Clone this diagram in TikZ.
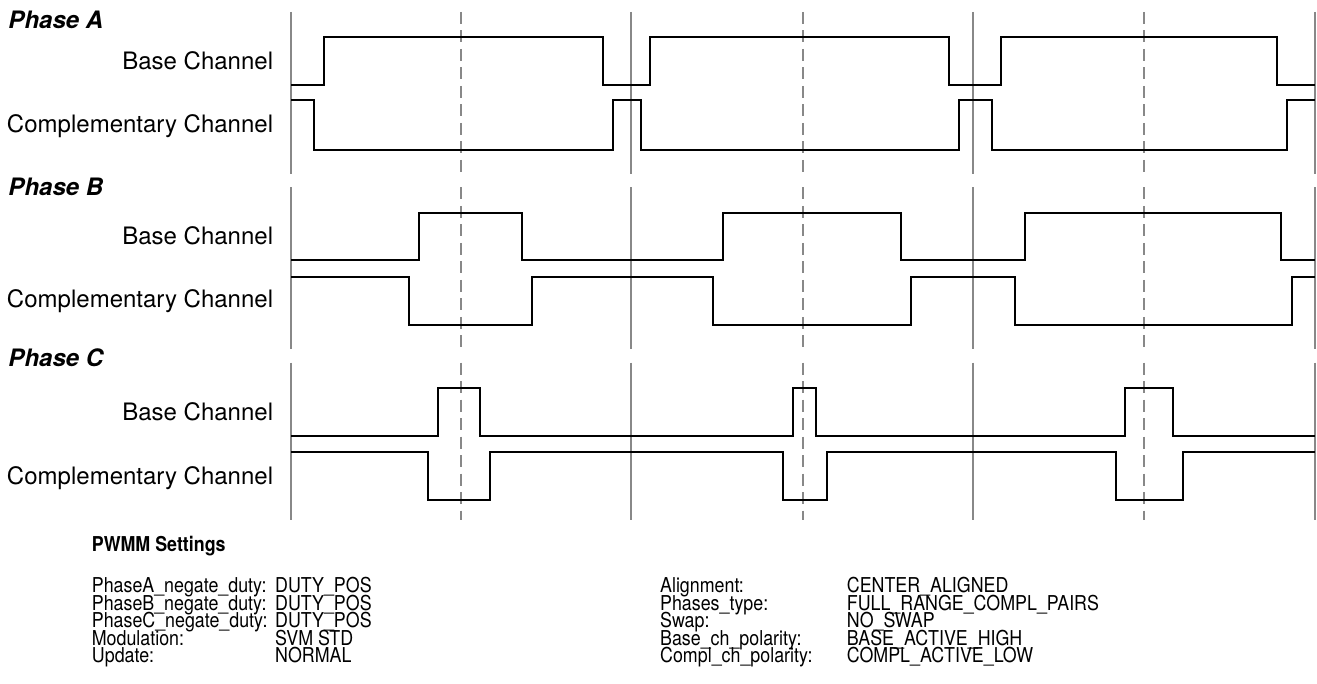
\documentclass[tikz,border=0pt]{standalone}
\usepackage{fontspec}
\setmainfont{TeX Gyre Heros}
\definecolor{gridgray}{RGB}{136,136,136}
\begin{document}
\begin{tikzpicture}[x=1pt,y=-1pt,
  solidgrid/.style={draw=gridgray, line width=2pt},
  dashgrid/.style={draw=gridgray, line width=2pt, dash pattern=on 12pt off 6.5pt},
  wave/.style={draw=black, line width=2pt, line join=miter},
  phaselbl/.style={anchor=base west, inner sep=0pt, font=\fontsize{24}{28}\selectfont\bfseries\itshape},
  chlbl/.style={anchor=base east, inner sep=0pt, font=\fontsize{24}{28}\selectfont},
  settitle/.style={anchor=base west, inner sep=0pt, xscale=0.87, transform shape, font=\fontsize{20.5}{18}\selectfont\bfseries},
  setlbl/.style={anchor=base west, inner sep=0pt, xscale=0.87, transform shape, font=\fontsize{20.5}{18}\selectfont}]
\useasboundingbox (0,0) rectangle (1317,684);

% grid lines per section
\foreach \ya/\yb in {12/174.3, 187.3/349.3, 362.7/520}{
  \foreach \xx in {291,630.7,973,1315}{
    \draw[solidgrid] (\xx,\ya) -- (\xx,\yb);
  }
  \foreach \xx in {460.7,803,1144}{
    \draw[dashgrid] (\xx,\ya) -- (\xx,\yb);
  }
}

% labels
\node[phaselbl] (pa) at (8.3,28.3) {Phase A};
\node[chlbl] (pab) at (273.3,70) {Base Channel};
\node[chlbl] (pac) at (273.3,132.7) {Complementary Channel};
\node[phaselbl] (pb) at (8.3,196) {Phase B};
\node[chlbl] (pbb) at (273.3,244.3) {Base Channel};
\node[chlbl] (pbc) at (273.3,307.3) {Complementary Channel};
\node[phaselbl] (pc) at (8.3,366.7) {Phase C};
\node[chlbl] (pcb) at (273.3,420) {Base Channel};
\node[chlbl] (pcc) at (273.3,484) {Complementary Channel};

% Phase A
\draw[wave] (291,85) -| (324,36.7) -| (602.7,85) -| (649.5,36.7) -| (949.1,85) -| (1001.4,36.7) -| (1276.8,85) -- (1315,85);
\draw[wave] (291,100.3) -| (313.7,149.7) -| (613,100.3) -| (641.3,149.7) -| (958.6,100.3) -| (991.5,149.7) -| (1287.2,100.3) -- (1315,100.3);
% Phase B
\draw[wave] (291,260.3) -| (419,212.7) -| (522,260.3) -| (723,212.7) -| (900.7,260.3) -| (1024.9,212.7) -| (1281,260.3) -- (1315,260.3);
\draw[wave] (291,277) -| (409,324.7) -| (531.7,277) -| (713,324.7) -| (911,277) -| (1015.3,324.7) -| (1291.7,277) -- (1315,277);
% Phase C
\draw[wave] (291,436) -| (438,388) -| (480,436) -| (793,388) -| (816,436) -| (1125,388) -| (1173.3,436) -- (1315,436);
\draw[wave] (291,452) -| (427.7,500) -| (489.7,452) -| (782.7,500) -| (827,452) -| (1116,500) -| (1182.6,452) -- (1315,452);

% settings
\node[settitle] (st) at (91.7,551.7) {PWMM Settings};
\node[setlbl] (l1) at (91.7,592.5) {PhaseA\_negate\_duty:};
\node[setlbl] (l2) at (91.7,610) {PhaseB\_negate\_duty:};
\node[setlbl] (l3) at (91.7,627.5) {PhaseC\_negate\_duty:};
\node[setlbl] (l4) at (91.7,645) {Modulation:};
\node[setlbl] (l5) at (91.7,662.5) {Update:};
\node[setlbl] (v1) at (275,592.5) {DUTY\_POS};
\node[setlbl] (v2) at (275,610) {DUTY\_POS};
\node[setlbl] (v3) at (275,627.5) {DUTY\_POS};
\node[setlbl] (v4) at (275,645) {SVM STD};
\node[setlbl] (v5) at (275,662.5) {NORMAL};
\node[setlbl] (r1) at (660,592.5) {Alignment:};
\node[setlbl] (r2) at (660,610) {Phases\_type:};
\node[setlbl] (r3) at (660,627.5) {Swap:};
\node[setlbl] (r4) at (660,645) {Base\_ch\_polarity:};
\node[setlbl] (r5) at (660,662.5) {Compl\_ch\_polarity:};
\node[setlbl] (w1) at (846.7,592.5) {CENTER\_ALIGNED};
\node[setlbl] (w2) at (846.7,610) {FULL\_RANGE\_COMPL\_PAIRS};
\node[setlbl] (w3) at (846.7,627.5) {NO\_SWAP};
\node[setlbl] (w4) at (846.7,645) {BASE\_ACTIVE\_HIGH};
\node[setlbl] (w5) at (846.7,662.5) {COMPL\_ACTIVE\_LOW};
\end{tikzpicture}
\end{document}
